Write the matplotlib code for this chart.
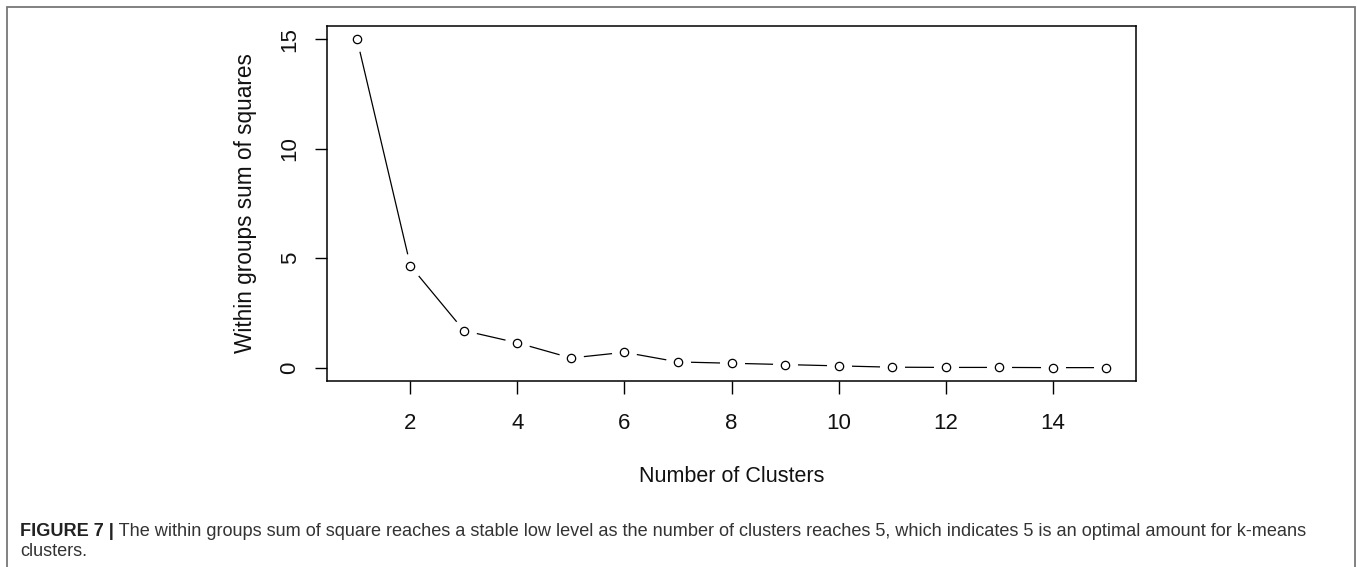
import matplotlib
matplotlib.use('Agg')
from matplotlib import pyplot as plt

plt.rcParams['font.family'] = ['Liberation Sans', 'DejaVu Sans']

clusters = [1, 2, 3, 4, 5, 6, 7, 8, 9, 10, 11, 12, 13, 14, 15]
wss = [15.0, 4.65, 1.70, 1.14, 0.45, 0.71, 0.27, 0.21, 0.15, 0.09, 0.03, 0.02, 0.02, 0.01, 0.01]
x_ticks = [2, 4, 6, 8, 10, 12, 14]
y_ticks = [0, 5, 10, 15]

caption_bold = 'FIGURE 7 |'
caption_line1 = (' The within groups sum of square reaches a stable low level as the number of '
                 'clusters reaches 5, which indicates 5 is an optimal amount for k-means')
caption_line2 = 'clusters.'

W, H = 1357, 567
fig = plt.figure(figsize=(W / 100, H / 100), dpi=100)

# outer frame of the figure panel
frame = plt.Rectangle((7 / W, -0.01), (1355 - 7) / W, 1 - 7 / H + 0.01,
                      transform=fig.transFigure, fill=False, edgecolor='#777777', lw=1.3)
fig.patches.append(frame)

ax = fig.add_axes([327 / W, 1 - 381 / H, (1136 - 327) / W, (381 - 26) / H])

# R-style type="b": line with gaps around the points
ax.plot(clusters, wss, color='black', lw=0.9, zorder=1)
ax.plot(clusters, wss, ls='none', marker='o', ms=17, mfc='white', mec='white', zorder=2)
ax.plot(clusters, wss, ls='none', marker='o', ms=6, mfc='white', mec='black', mew=0.9, zorder=3)

ax.set_xlim(0.44, 15.56)
ax.set_ylim(-0.6, 15.6)
ax.set_xticks(x_ticks)
ax.set_yticks(y_ticks)
ax.tick_params(direction='out', length=9, width=1, labelsize=16, labelcolor='#111111')
ax.tick_params(axis='x', pad=14)
ax.tick_params(axis='y', pad=10)
ax.set_yticklabels([str(v) for v in y_ticks], rotation=90, va='center')
for s in ax.spines.values():
    s.set_linewidth(1.1)

ax.set_xlabel('Number of Clusters', fontsize=15.5, labelpad=23, color='#111111')
ax.set_ylabel('Within groups sum of squares', fontsize=16.3, labelpad=16, color='#111111')

# caption
t1 = fig.text(20 / W, 1 - 531 / H, caption_bold, fontsize=13.1, fontweight='bold',
              color='#222222', va='center', ha='left')
fig.canvas.draw()
bb = t1.get_window_extent()
fig.text(bb.x1 / W, 1 - 531 / H, caption_line1, fontsize=13.1, color='#333333',
         va='center', ha='left')
fig.text(20 / W, 1 - 552 / H, caption_line2, fontsize=13.1, color='#333333',
         va='center', ha='left')

fig.savefig('out.png', dpi=100)
